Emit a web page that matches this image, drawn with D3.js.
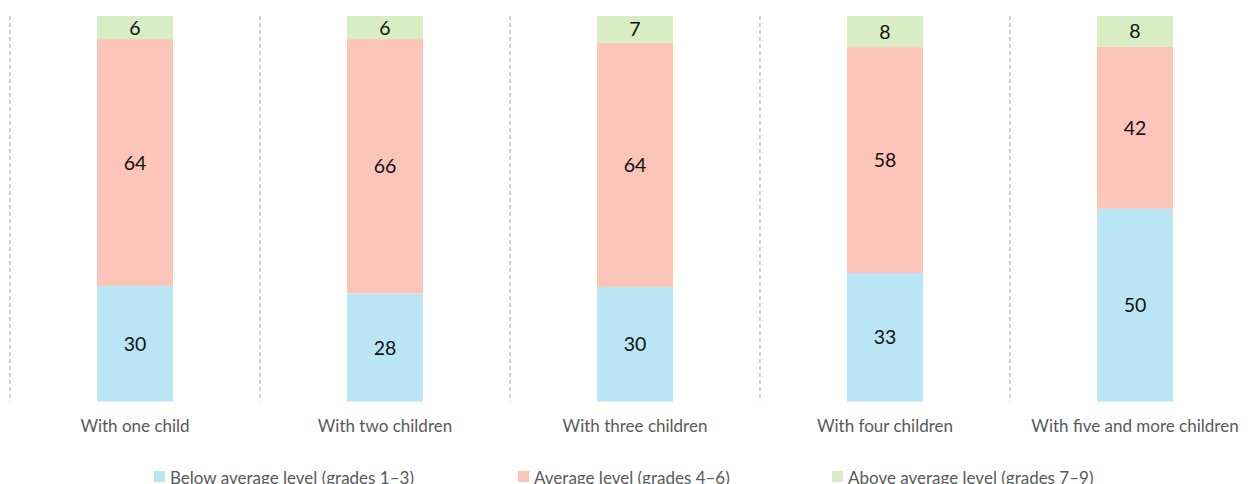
<!DOCTYPE html>
<html><head><meta charset="utf-8">
<script src="https://cdn.jsdelivr.net/npm/d3@7"></script>
<style>body{margin:0;background:#fff}svg{display:block}</style>
</head><body>
<script>
const categories = ["With one child","With two children","With three children","With four children","With five and more children"];
const seriesNames = ["Below average level (grades 1–3)","Average level (grades 4–6)","Above average level (grades 7–9)"];
const below = [30,28,30,33,50];
const average = [64,66,64,58,42];
const above = [6,6,7,8,8];
const colors = ["#b9e5f5","#fdc5b9","#d9edc5"];

const W=1252,H=484;
const svg=d3.select("body").append("svg").attr("width",W).attr("height",H);
const font="Lato, 'Open Sans', sans-serif";
const x=d3.scaleBand().domain(categories).range([10,1260]).paddingInner(0).paddingOuter(0);
const y=d3.scaleLinear().domain([0,1]).range([401.5,16]);
const barW=76;

svg.selectAll("line.sep").data(d3.range(categories.length)).enter().append("line")
 .attr("x1",i=>x(categories[i])).attr("x2",i=>x(categories[i]))
 .attr("y1",16).attr("y2",401.5).attr("stroke","#b4b4b4").attr("stroke-width",1.2)
 .attr("stroke-dasharray","4,3");

const data=categories.map((c,i)=>({cat:c,v:[below[i],average[i],above[i]]}));
data.forEach(d=>{
  const total=d3.sum(d.v);
  let acc=0;
  d.v.forEach((val,k)=>{
    const y0=acc/total,y1=(acc+val)/total; acc+=val;
    const cx=x(d.cat)+x.bandwidth()/2;
    svg.append("rect").attr("x",cx-barW/2).attr("width",barW)
      .attr("y",y(y1)).attr("height",y(y0)-y(y1)).attr("fill",colors[k]);
    svg.append("text").attr("x",cx).attr("y",(y(y0)+y(y1))/2).attr("dy","0.36em")
      .attr("text-anchor","middle").attr("font-family",font).attr("font-size",19.5)
      .attr("fill","#111").text(val);
  });
});

svg.selectAll("text.cat").data(categories).enter().append("text")
 .attr("x",d=>x(d)+x.bandwidth()/2).attr("y",432).attr("text-anchor","middle")
 .attr("font-family",font).attr("font-size",17).attr("fill","#595959").text(d=>d);

const legX=[154,518,832];
seriesNames.forEach((n,k)=>{
  svg.append("rect").attr("x",legX[k]).attr("y",471).attr("width",11).attr("height",11).attr("fill",colors[k]);
  svg.append("text").attr("x",legX[k]+16).attr("y",484).attr("font-family",font).attr("font-size",17)
   .attr("fill","#595959").text(n);
});
</script>
</body></html>
